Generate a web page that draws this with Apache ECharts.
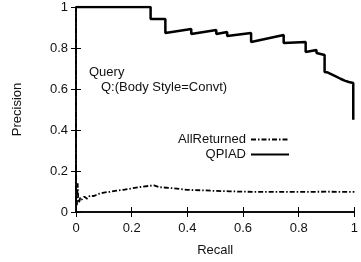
<!DOCTYPE html>
<html>
<head>
<meta charset="utf-8">
<script src="https://cdn.jsdelivr.net/npm/echarts@6/dist/echarts.min.js"></script>
<style>
  html, body { margin: 0; padding: 0; background: #fff; }
  #chart { width: 361px; height: 262px; }
</style>
</head>
<body>
<div id="chart"></div>
<script>
// QPIAD precision/recall (step-like curve)
var qpiadRecall = [0, 0.268, 0.268, 0.321, 0.321, 0.414, 0.414, 0.504, 0.504, 0.543, 0.543,
    0.629, 0.629, 0.746, 0.746, 0.825, 0.825, 0.864, 0.864, 0.893, 0.893,
    0.905, 0.905, 0.92, 0.92, 0.935, 0.935, 0.95, 0.95, 0.965, 0.965, 0.98, 0.98, 0.996, 0.996];
var qpiadPrecision = [1, 1, 0.941, 0.941, 0.873, 0.893, 0.868, 0.888, 0.868, 0.878, 0.859,
    0.873, 0.829, 0.863, 0.824, 0.829, 0.780, 0.790, 0.776, 0.766, 0.683,
    0.680, 0.672, 0.670, 0.662, 0.660, 0.652, 0.650, 0.643, 0.641, 0.636, 0.634, 0.631, 0.629, 0.45];

// AllReturned precision/recall
var allRecall = [0, 0, 0.003, 0.006, 0.008, 0.011, 0.015, 0.02, 0.03, 0.04, 0.05, 0.065, 0.08, 0.1,
    0.12, 0.14, 0.17, 0.2, 0.23, 0.26, 0.28, 0.3, 0.34, 0.4, 0.45, 0.5, 0.55, 0.6, 0.7, 0.8, 0.9, 1.0];
var allPrecision = [1, 0.05, 0.03, 0.14, 0.06, 0.045, 0.07, 0.06, 0.075, 0.065, 0.08, 0.078, 0.088, 0.095,
    0.098, 0.103, 0.108, 0.115, 0.122, 0.127, 0.13, 0.121, 0.117, 0.108, 0.106, 0.103, 0.101, 0.099, 0.098, 0.098, 0.099, 0.098];

function pairs(xs, ys) {
    return xs.map(function (x, i) { return [x, ys[i]]; });
}

var chart = echarts.init(document.getElementById("chart"), null, { width: 361, height: 262 });

var font = { fontFamily: "Liberation Sans", fontSize: 13, color: "#111" };
var axisLine = { show: true, lineStyle: { color: "#000", width: 1.5 } };
var axisTick = { show: true, inside: true, length: 5, lineStyle: { color: "#000", width: 1 } };

var option = {
    animation: false,
    grid: { left: 76, right: 6, top: 7, bottom: 50, containLabel: false },
    xAxis: [{
        type: "value", min: 0, max: 1, interval: 0.2,
        name: "Recall", nameLocation: "middle", nameGap: 32,
        nameTextStyle: font,
        axisLine: axisLine, axisTick: axisTick,
        axisLabel: Object.assign({ margin: 10 }, font),
        splitLine: { show: false }
    }, {
        type: "value", min: 0, max: 1, interval: 0.2, position: "top",
        axisLine: axisLine, axisTick: axisTick,
        axisLabel: { show: false }, splitLine: { show: false }
    }],
    yAxis: [{
        type: "value", min: 0, max: 1, interval: 0.2,
        name: "Precision", nameLocation: "middle", nameGap: 52,
        nameTextStyle: font,
        axisLine: axisLine, axisTick: axisTick,
        axisLabel: Object.assign({ margin: 8 }, font),
        splitLine: { show: false }
    }, {
        type: "value", min: 0, max: 1, interval: 0.2, position: "right",
        axisLine: axisLine, axisTick: axisTick,
        axisLabel: { show: false }, splitLine: { show: false }
    }],
    legend: [{
        data: ["AllReturned"], right: 66, top: 128, align: "right",
        itemWidth: 38, itemHeight: 12, itemGap: 6,
        itemStyle: { opacity: 0 },
        textStyle: font
    }, {
        data: ["QPIAD"], right: 66, top: 143, align: "right",
        itemWidth: 38, itemHeight: 12, itemGap: 6,
        itemStyle: { opacity: 0 },
        textStyle: font
    }],
    graphic: [{
        type: "text", left: 89, top: 66,
        style: { text: "Query", font: "13px 'Liberation Sans'", fill: "#111" }
    }, {
        type: "text", left: 101, top: 81,
        style: { text: "Q:(Body Style=Convt)", font: "13px 'Liberation Sans'", fill: "#111" }
    }],
    series: [{
        name: "AllReturned", type: "line", symbol: "none",
        data: pairs(allRecall, allPrecision),
        lineStyle: { color: "#000", width: 1.8, type: [5, 2, 1.5, 2] },
        itemStyle: { color: "#000" }
    }, {
        name: "QPIAD", type: "line", symbol: "none",
        data: pairs(qpiadRecall, qpiadPrecision),
        lineStyle: { color: "#000", width: 2.5 },
        itemStyle: { color: "#000" }
    }]
};

chart.setOption(option);
</script>
</body>
</html>
